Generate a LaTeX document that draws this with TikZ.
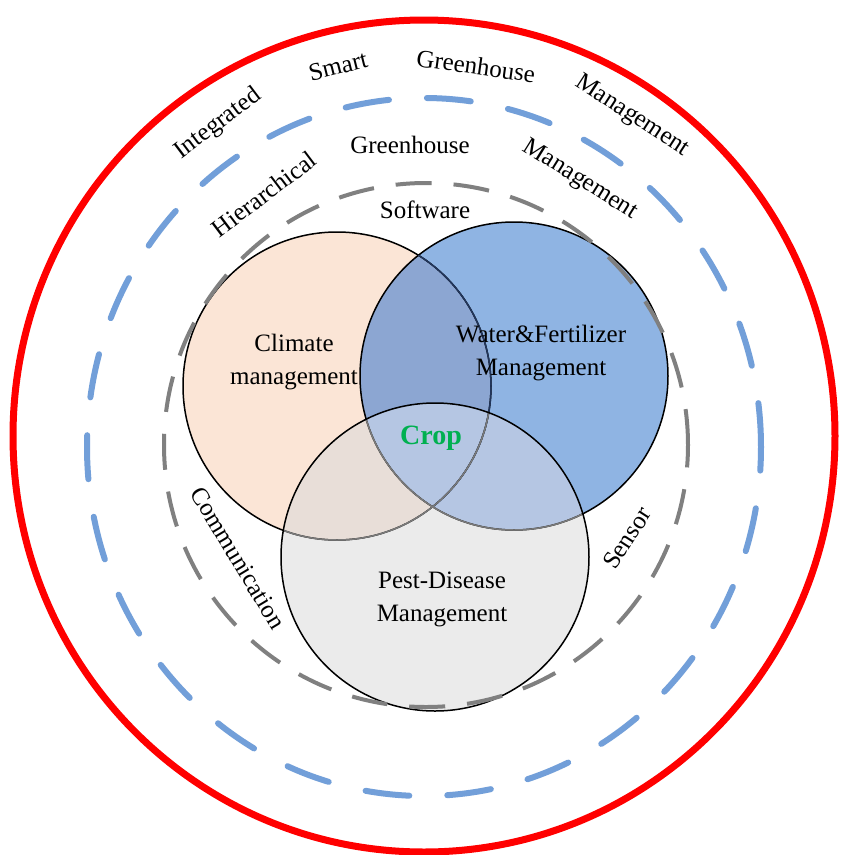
\documentclass[tikz,border=0pt]{standalone}
\usepackage{fontspec}
\setmainfont{Liberation Serif}
\definecolor{corange}{HTML}{FBE5D6}
\definecolor{cblue}{HTML}{8FB4E3}
\definecolor{cpest}{HTML}{EBEBEB}
\definecolor{cob}{HTML}{8CA6D2}
\definecolor{cop}{HTML}{E8DED8}
\definecolor{cbp}{HTML}{B5C6E3}
\definecolor{cobp}{HTML}{A8B8D6}
\definecolor{cred}{HTML}{FF0000}
\definecolor{cring}{HTML}{729FD9}
\definecolor{cgring}{HTML}{808080}
\definecolor{ccrop}{HTML}{00B050}
\definecolor{cnavy}{HTML}{22365C}
\definecolor{cfaint}{HTML}{7A7A7A}
\begin{document}
\begin{tikzpicture}[x=1pt,y=-1pt,
  lbl/.style={inner sep=0pt, font=\fontsize{25}{33}\selectfont, align=center},
  edge/.style={line width=1.5pt},
]
\useasboundingbox (0,0) rectangle (845,855);
\fill[white] (0,0) rectangle (845,855);
\coordinate (O) at (337,386);
\coordinate (B) at (514,376);
\coordinate (P) at (435,557);
\coordinate (C) at (424,446);
% fills
\fill[corange] (O) circle (154pt);
\fill[cblue] (B) circle (154pt);
\fill[cpest] (P) circle (154pt);
\begin{scope}
  \clip (O) circle (154pt);
  \fill[cob] (B) circle (154pt);
  \fill[cop] (P) circle (154pt);
  \clip (B) circle (154pt);
  \fill[cobp] (P) circle (154pt);
\end{scope}
\begin{scope}
  \clip (B) circle (154pt);
  \fill[cbp] (P) circle (154pt);
\end{scope}
% outlines
\draw[edge] (O) circle (154pt);
\draw[edge] (B) circle (154pt);
\begin{scope}
  \clip (B) circle (154pt);
  \draw[edge, cnavy] (O) circle (154pt);
\end{scope}
\begin{scope}
  \clip (P) circle (154pt);
  \draw[edge, cfaint] (O) circle (154pt);
  \draw[edge, cfaint] (B) circle (154pt);
\end{scope}
\draw[edge] (P) circle (154pt);
% rings
\draw[cgring, line width=4pt, dash pattern=on 36pt off 22pt] (426,445) circle (262pt);
\draw[cring, line width=6pt, line cap=round, dash pattern=on 44pt off 38pt] (424,447) ellipse (337pt and 349pt);
\draw[cred, line width=7pt] (424,436) ellipse (411pt and 416pt);
% texts
\node[lbl] (climate) at (294,362) {Climate\\management};
\node[lbl] (water) at (541,353) {Water\&Fertilizer\\Management};
\node[lbl] (pest) at (442,599) {Pest-Disease\\Management};
\node[lbl, text=ccrop, font=\fontsize{28}{33}\selectfont\bfseries] (crop) at (431,438) {Crop};
\node[lbl] (software) at (425,210) {Software};
\node[lbl, rotate=-59] (comm) at (238,558) {Communication};
\node[lbl, rotate=57] (sensor) at (627,538) {Sensor};
\node[lbl, rotate=37] (hier) at (264,194) {Hierarchical};
\node[lbl] (gh1) at (410,145) {Greenhouse};
\node[lbl, rotate=-32] (mg1) at (580,180) {Management};
\node[lbl, rotate=37] (integ) at (218,124) {Integrated};
\node[lbl, rotate=14] (smart) at (338,66) {Smart};
\node[lbl, rotate=-8] (gh2) at (476,66) {Greenhouse};
\node[lbl, rotate=-33] (mg2) at (632,116) {Management};
\end{tikzpicture}
\end{document}
